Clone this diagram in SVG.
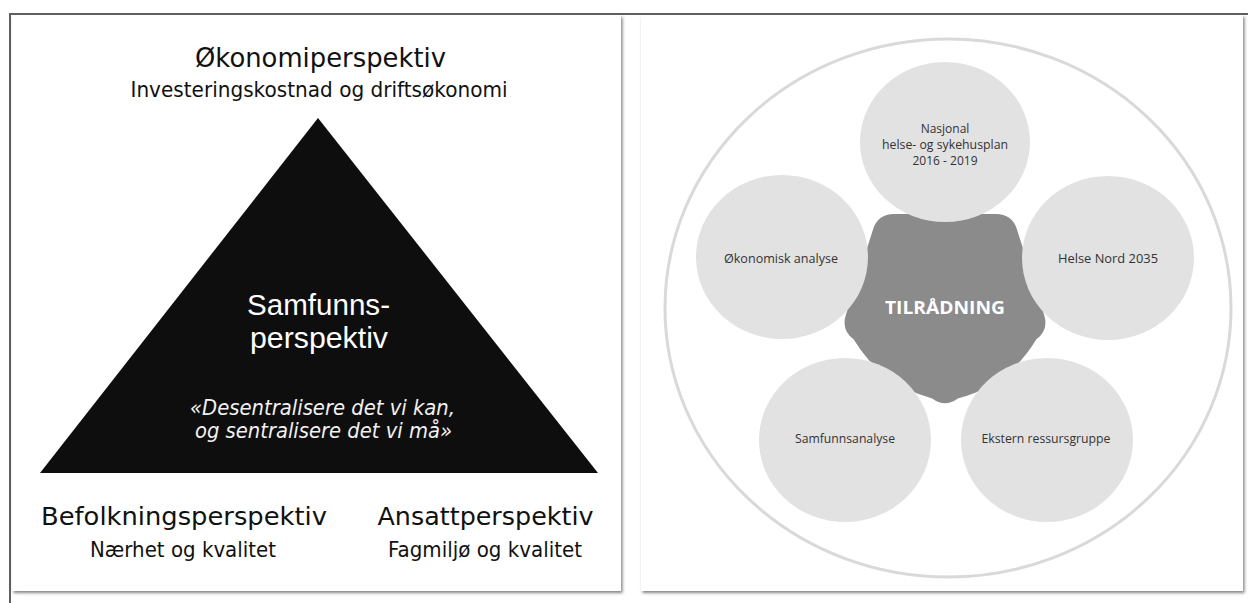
<svg xmlns="http://www.w3.org/2000/svg" width="1248" height="603" viewBox="0 0 1248 603">
<defs>
<filter id="shadow" x="-5%" y="-5%" width="110%" height="110%">
<feDropShadow dx="1.5" dy="2" stdDeviation="1.6" flood-color="#6e6e6e" flood-opacity="0.85"/>
</filter>
<style>
.card{fill:#ffffff;filter:url(#shadow);}
.frame{stroke:#5f5f5f;stroke-width:2;fill:none;}
.hd{font-family:"DejaVu Sans","Liberation Sans",sans-serif;fill:#111;}
.sam{font-family:"Liberation Sans",Arial,sans-serif;fill:#fff;font-size:29px;}
.quote{font-family:"DejaVu Sans","Liberation Sans",sans-serif;font-style:italic;fill:#f2f2f2;font-size:22px;}
.bub{fill:#e2e2e2;}
.bt{font-family:"Open Sans","Liberation Sans",sans-serif;font-size:12px;fill:#333;text-anchor:middle;}
.core{fill:#8b8b8b;}
.ct{font-family:"Open Sans","Liberation Sans",sans-serif;font-weight:bold;font-size:17px;fill:#fff;}
</style>
</defs>
<rect width="1248" height="603" fill="#ffffff"/>
<g id="left-panel">
<rect class="card" x="12" y="15" width="609" height="576"/>
<g id="node-okonomi">
<text class="hd" x="195" y="67" font-size="27" textLength="251" lengthAdjust="spacingAndGlyphs">Økonomiperspektiv</text>
<text class="hd" x="130.5" y="97" font-size="21" textLength="377" lengthAdjust="spacingAndGlyphs">Investeringskostnad og driftsøkonomi</text>
</g>
<g id="node-samfunn">
<polygon points="318,118 40,473 598,473" fill="#0e0e0e"/>
<text class="sam" x="247" y="315" textLength="143" lengthAdjust="spacingAndGlyphs">Samfunns-</text>
<text class="sam" x="250" y="348" textLength="138" lengthAdjust="spacingAndGlyphs">perspektiv</text>
<text class="quote" x="190" y="415" textLength="265" lengthAdjust="spacingAndGlyphs">«Desentralisere det vi kan,</text>
<text class="quote" x="195" y="438" textLength="257" lengthAdjust="spacingAndGlyphs">og sentralisere det vi må»</text>
</g>
<g id="node-befolkning">
<text class="hd" x="41" y="525" font-size="25" textLength="286" lengthAdjust="spacingAndGlyphs">Befolkningsperspektiv</text>
<text class="hd" x="90" y="557" font-size="21" textLength="186" lengthAdjust="spacingAndGlyphs">Nærhet og kvalitet</text>
</g>
<g id="node-ansatt">
<text class="hd" x="377.5" y="525" font-size="25" textLength="216" lengthAdjust="spacingAndGlyphs">Ansattperspektiv</text>
<text class="hd" x="388" y="557" font-size="21" textLength="194" lengthAdjust="spacingAndGlyphs">Fagmiljø og kvalitet</text>
</g>
</g>
<g id="right-panel">
<rect class="card" x="641" y="15" width="602" height="576"/>
<ellipse cx="948" cy="308" rx="283" ry="269" fill="#ffffff" stroke="#d9d9d9" stroke-width="3"/>
<g id="node-tilradning">
<path class="core" d="M932.2,398.4 Q881,385 853.8,339.6 Q841,330 845.9,314.8 L873.1,229.2 Q878,214 894,214 L996,214 Q1012,214 1016.9,229.2 L1044.1,314.8 Q1049,330 1036.2,339.6 Q1009,385 957.8,398.4 Q945,408 932.2,398.4 Z"/>
</g>
<g id="node-nasjonal">
<ellipse class="bub" cx="945" cy="142" rx="85" ry="80"/>
<text class="bt" x="945" y="133">Nasjonal</text>
<text class="bt" x="945" y="149" textLength="126" lengthAdjust="spacingAndGlyphs">helse- og sykehusplan</text>
<text class="bt" x="945" y="165">2016 - 2019</text>
</g>
<g id="node-okonomisk">
<ellipse class="bub" cx="782" cy="257" rx="86" ry="82"/>
<text class="bt" x="781" y="263" textLength="114" lengthAdjust="spacingAndGlyphs">Økonomisk analyse</text>
</g>
<g id="node-helsenord">
<ellipse class="bub" cx="1108" cy="258" rx="86" ry="82"/>
<text class="bt" x="1108" y="263" textLength="100" lengthAdjust="spacingAndGlyphs">Helse Nord 2035</text>
</g>
<g id="node-samfunnsanalyse">
<ellipse class="bub" cx="845" cy="440" rx="86" ry="82"/>
<text class="bt" x="845" y="443" textLength="100" lengthAdjust="spacingAndGlyphs">Samfunnsanalyse</text>
</g>
<g id="node-ekstern">
<ellipse class="bub" cx="1047" cy="440" rx="86" ry="82"/>
<text class="bt" x="1046" y="443" textLength="129" lengthAdjust="spacingAndGlyphs">Ekstern ressursgruppe</text>
</g>
<text class="ct" x="885" y="314" textLength="120" lengthAdjust="spacingAndGlyphs">TILRÅDNING</text>
</g>
<g id="frame">
<line class="frame" x1="9" y1="14" x2="1248" y2="14"/>
<line class="frame" x1="10" y1="13" x2="10" y2="603"/>
</g>
<g id="connectors"></g>
</svg>
